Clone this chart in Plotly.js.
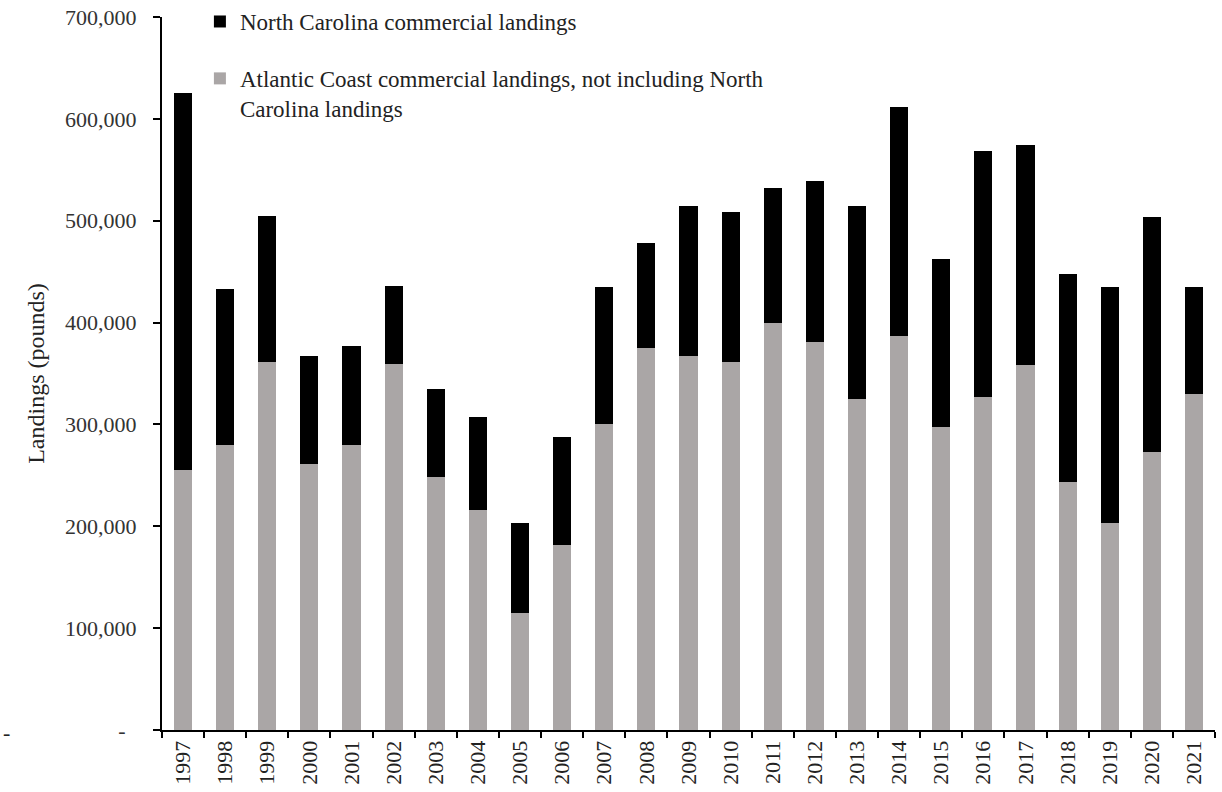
<!DOCTYPE html>
<html>
<head>
<meta charset="utf-8">
<script src="https://cdn.plot.ly/plotly-3.0.1.min.js"></script>
<style>
  html, body { margin: 0; padding: 0; background: #ffffff; }
  #chart { width: 1222px; height: 792px; }
</style>
</head>
<body>
<div id="chart"></div>
<script>
const years = ['1997','1998','1999','2000','2001','2002','2003','2004','2005','2006','2007','2008','2009','2010','2011','2012','2013','2014','2015','2016','2017','2018','2019','2020','2021'];
// Atlantic Coast landings excluding North Carolina (gray, bottom)
const atlanticOther = [255000,280000,361000,261000,280000,359000,248000,216000,115000,182000,300000,375000,367000,361000,400000,381000,325000,387000,297000,327000,358000,243000,203000,273000,330000];
// Total landings (top of each stacked bar)
const totals = [625000,433000,505000,367000,377000,436000,335000,307000,203000,288000,435000,478000,514000,509000,532000,539000,514000,612000,462000,568000,574000,448000,435000,504000,435000];
// North Carolina landings (black, top)
const northCarolina = totals.map((t, i) => t - atlanticOther[i]);

const yTickVals = [0,100000,200000,300000,400000,500000,600000,700000];
const yTickText = ['-\u00a0\u00a0','100,000','200,000','300,000','400,000','500,000','600,000','700,000'];

const serif = 'Liberation Serif, Times New Roman, serif';
const boundaries = years.map((_, i) => i - 0.5).concat([years.length - 0.5]);

const traces = [
  {
    type: 'bar', x: years, y: atlanticOther,
    name: 'Atlantic Coast commercial landings, not including North<br>Carolina landings',
    marker: { color: '#aaa6a6', line: { width: 0 } },
    legendgroup: 'b', legendrank: 2
  },
  {
    type: 'bar', x: years, y: northCarolina,
    name: 'North Carolina commercial landings',
    marker: { color: '#000000', line: { width: 0 } },
    legendgroup: 'a', legendrank: 1
  }
];

const layout = {
  width: 1222, height: 792,
  margin: { l: 162, r: 7, t: 17, b: 62, pad: 0, autoexpand: false },
  paper_bgcolor: '#ffffff', plot_bgcolor: '#ffffff',
  barmode: 'stack',
  bargap: 0.57,
  font: { family: serif, size: 22, color: '#222' },
  showlegend: true,
  legend: {
    x: 0.036, xanchor: 'left', y: 1.0238, yanchor: 'top',
    traceorder: 'grouped', tracegroupgap: 24,
    valign: 'top',
    font: { family: serif, size: 23, color: '#222' },
    bgcolor: 'rgba(0,0,0,0)', itemwidth: 30
  },
  xaxis: {
    type: 'category',
    categoryorder: 'array', categoryarray: years,
    range: [-0.5, years.length - 0.5],
    showline: true, linecolor: '#000', linewidth: 2,
    showgrid: false, zeroline: false,
    ticks: 'outside', ticklen: 6, tickwidth: 2, tickcolor: '#000',
    tickson: 'boundaries',
    tickangle: -90,
    tickfont: { family: serif, size: 22, color: '#222' },
    fixedrange: true
  },
  xaxis2: {
    overlaying: 'x', anchor: 'y', side: 'bottom',
    range: [-0.5, years.length - 0.5],
    tickmode: 'array', tickvals: boundaries,
    ticks: 'inside', ticklen: 6, tickwidth: 2, tickcolor: '#000',
    showticklabels: false, showline: false, showgrid: false, zeroline: false,
    fixedrange: true
  },
  yaxis: {
    range: [0, 700000],
    tickmode: 'array', tickvals: yTickVals, ticktext: yTickText,
    showline: true, linecolor: '#000', linewidth: 2,
    showgrid: false, zeroline: false,
    ticks: 'outside', ticklen: 7, tickwidth: 2, tickcolor: '#000',
    ticklabelstandoff: 12,
    tickfont: { family: serif, size: 22, color: '#333' },
    title: { text: 'Landings (pounds)', font: { family: serif, size: 24, color: '#222' }, standoff: 14 },
    fixedrange: true
  },
  yaxis2: {
    overlaying: 'y', anchor: 'x', side: 'left',
    range: [0, 700000],
    tickmode: 'array', tickvals: yTickVals,
    ticks: 'inside', ticklen: 7, tickwidth: 2, tickcolor: '#000',
    showticklabels: false, showline: false, showgrid: false, zeroline: false,
    fixedrange: true
  },
  annotations: [
    { xref: 'paper', yref: 'paper', x: -0.153, y: -0.004, xanchor: 'left', yanchor: 'middle',
      text: '-', showarrow: false, font: { family: serif, size: 22, color: '#222' } }
  ]
};

Plotly.newPlot('chart', traces, layout, { displayModeBar: false, staticPlot: true });
</script>
</body>
</html>
